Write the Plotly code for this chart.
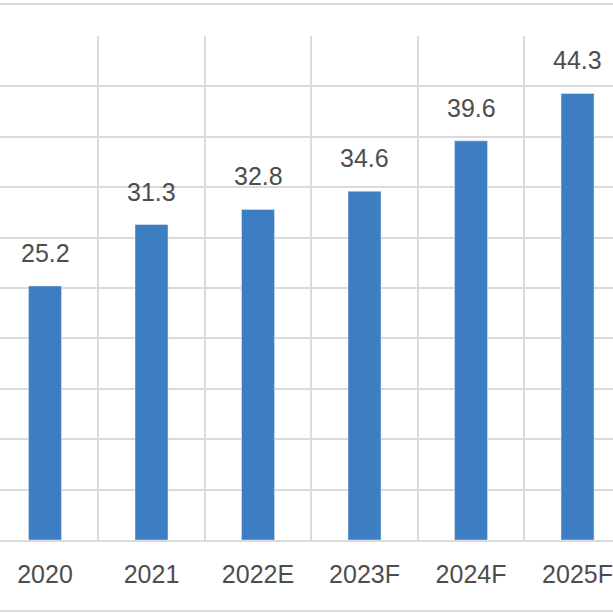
import plotly.graph_objects as go

years = ['2020', '2021', '2022E', '2023F', '2024F', '2025F']
values = [25.2, 31.3, 32.8, 34.6, 39.6, 44.3]
y_ticks = [0, 5, 10, 15, 20, 25, 30, 35, 40, 45, 50]

bar_color = '#3d7ec2'
grid_color = '#dadada'
text_color = '#4d4d4d'

fig = go.Figure()

fig.add_trace(go.Bar(
    x=years,
    y=values,
    marker_color=bar_color,
    width=0.31,
    hoverinfo='skip'
))

# value labels above the bars (x as category index, '2020' would be read as a number)
for i, v in enumerate(values):
    fig.add_annotation(
        x=i, y=v, text=f'{v:.1f}',
        showarrow=False, yanchor='bottom', yshift=17,
        font=dict(family='Liberation Sans, Arial', size=25, color=text_color)
    )

# frame lines above and below the chart
for yy in [1.0635, -0.141]:
    fig.add_shape(type='line', xref='paper', yref='paper',
                  x0=0, x1=1, y0=yy, y1=yy,
                  line=dict(color=grid_color, width=2))

fig.update_xaxes(
    type='category',
    range=[-0.4225, 5.333],
    tickson='boundaries',
    showgrid=True, gridcolor=grid_color, gridwidth=2,
    ticks='', ticklabelstandoff=11,
    showline=True, linecolor=grid_color, linewidth=2,
    tickfont=dict(family='Liberation Sans, Arial', size=25, color=text_color),
    fixedrange=True
)
fig.update_yaxes(
    range=[0, 50],
    tickvals=y_ticks,
    showticklabels=False,
    showgrid=True, gridcolor=grid_color, gridwidth=2,
    zeroline=False,
    fixedrange=True
)

fig.update_layout(
    width=613, height=613,
    margin=dict(l=0, r=0, t=36, b=73),
    plot_bgcolor='white', paper_bgcolor='white',
    showlegend=False
)

fig.write_html('out.html', config={'displayModeBar': False},
               post_script="document.body.style.margin='0';document.body.style.overflow='hidden';")
